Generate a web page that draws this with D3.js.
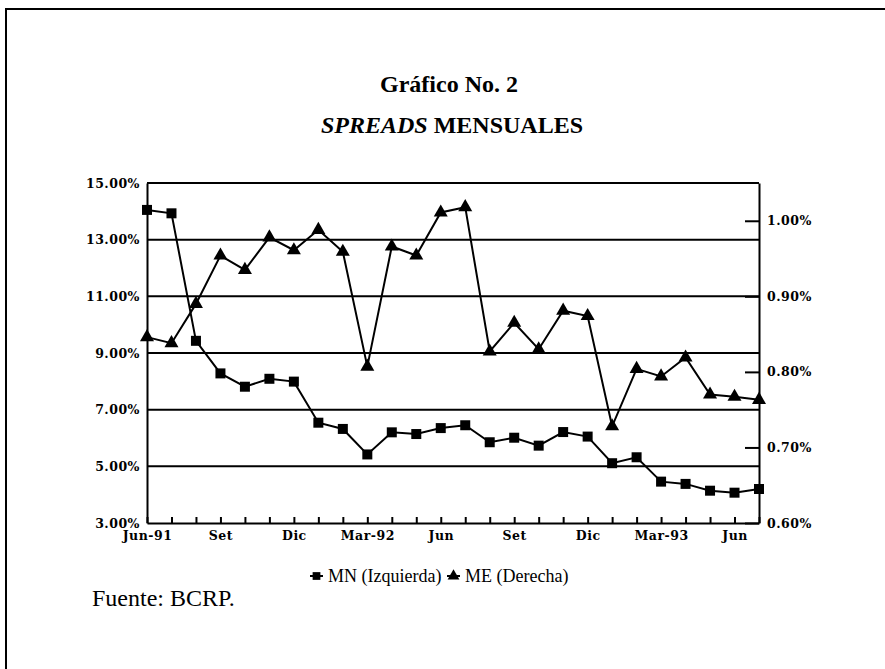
<!DOCTYPE html>
<html>
<head>
<meta charset="utf-8">
<script src="https://cdn.jsdelivr.net/npm/d3@7"></script>
<style>
    body { margin: 0; background: #fff; }
    .axis text { font-family: "DejaVu Serif", serif; font-size: 12.5px; font-weight: bold; fill: #000; letter-spacing: 0.5px; }
    .axis path, .axis line { stroke: #000; stroke-width: 2; }
    .title { font-family: "Liberation Serif", "Times New Roman", serif; font-weight: bold; font-size: 24px; }
    .legend text { font-family: "Liberation Serif", serif; font-size: 18px; }
    .source { font-family: "Liberation Serif", serif; font-size: 24px; }
</style>
</head>
<body>
<div id="chart"></div>
<script>

// months from Jun-91 to Jul-93
let months = ["Jun-91","Jul-91","Ago-91","Set-91","Oct-91","Nov-91","Dic-91","Ene-92","Feb-92","Mar-92",
    "Abr-92","May-92","Jun-92","Jul-92","Ago-92","Set-92","Oct-92","Nov-92","Dic-92","Ene-93","Feb-93",
    "Mar-93","Abr-93","May-93","Jun-93","Jul-93"];

// only these months get a label on the x axis
let tickText = {"Jun-91": "Jun-91", "Set-91": "Set", "Dic-91": "Dic", "Mar-92": "Mar-92", "Jun-92": "Jun",
    "Set-92": "Set", "Dic-92": "Dic", "Mar-93": "Mar-93", "Jun-93": "Jun"};

// MN spread, left axis (%)
let mn = [14.05, 13.93, 9.43, 8.28, 7.81, 8.09, 7.99, 6.54, 6.32, 5.42, 6.20, 6.14, 6.35,
    6.45, 5.85, 6.01, 5.73, 6.21, 6.05, 5.11, 5.32, 4.46, 4.38, 4.14, 4.07, 4.20];

// ME spread, right axis (%)
let me = [0.846, 0.838, 0.890, 0.954, 0.935, 0.978, 0.961, 0.988, 0.959, 0.807, 0.966, 0.954, 1.011,
    1.018, 0.827, 0.865, 0.830, 0.881, 0.874, 0.728, 0.804, 0.794, 0.819, 0.770, 0.767, 0.763];

let leftTicks = [3, 5, 7, 9, 11, 13, 15];
let rightTicks = [0.6, 0.7, 0.8, 0.9, 1.0];

let margin = {top: 183, right: 126, bottom: 146, left: 147};
let width = 885 - margin.left - margin.right;
let height = 669 - margin.top - margin.bottom;

let root = d3.select("#chart").append("svg")
    .attr("width", 885)
    .attr("height", 669);

// page frame (only top and left edges fall inside the picture)
root.append("rect")
    .attr("x", 6).attr("y", 9)
    .attr("width", 1000).attr("height", 1000)
    .attr("fill", "none")
    .attr("stroke", "#000")
    .attr("stroke-width", 2);

root.append("text").attr("class", "title")
    .attr("x", 449).attr("y", 92)
    .attr("text-anchor", "middle")
    .text("Gráfico No. 2");

let t2 = root.append("text").attr("class", "title")
    .attr("x", 452).attr("y", 133)
    .attr("text-anchor", "middle");
t2.append("tspan").attr("font-style", "italic").text("SPREADS");
t2.append("tspan").text(" MENSUALES");

let svg = root.append("g")
    .attr("transform", `translate(${margin.left}, ${margin.top})`);

// Scales
let x = d3.scalePoint().domain(months).range([0, width]);
let yL = d3.scaleLinear().domain([3, 15]).range([height, 0]);
let yR = d3.scaleLinear().domain([0.6, 1.05]).range([height, 0]);

// grid lines
svg.selectAll(".grid")
    .data(leftTicks.filter(d => d > 3))
    .enter().append("line")
    .attr("x1", 0).attr("x2", width)
    .attr("y1", d => yL(d)).attr("y2", d => yL(d))
    .attr("stroke", "#000")
    .attr("stroke-width", 2);

// Axes
svg.append("g").attr("class", "axis")
    .call(d3.axisLeft(yL).tickValues(leftTicks).tickSize(0).tickPadding(7)
        .tickFormat(d => d.toFixed(2) + "%"));

svg.append("g").attr("class", "axis")
    .attr("transform", `translate(${width}, 0)`)
    .call(d3.axisRight(yR).tickValues(rightTicks).tickSizeInner(-14).tickSizeOuter(0).tickPadding(8)
        .tickFormat(d => d.toFixed(2) + "%"));

svg.append("g").attr("class", "axis")
    .attr("transform", `translate(0, ${height})`)
    .call(d3.axisBottom(x).tickSizeInner(-6).tickSizeOuter(0).tickPadding(8)
        .tickFormat(d => tickText[d] || ""));

// Lines
let lineMN = d3.line().x((d, i) => x(months[i])).y(d => yL(d));
let lineME = d3.line().x((d, i) => x(months[i])).y(d => yR(d));

svg.append("path")
    .attr("d", lineME(me))
    .attr("fill", "none").attr("stroke", "#000").attr("stroke-width", 2);

svg.append("path")
    .attr("d", lineMN(mn))
    .attr("fill", "none").attr("stroke", "#000").attr("stroke-width", 2);

let square = d3.symbol().type(d3.symbolSquare).size(100);
let triangle = d3.symbol().type(d3.symbolTriangle).size(85);

svg.selectAll(".mn")
    .data(mn).enter().append("path")
    .attr("d", square)
    .attr("transform", (d, i) => `translate(${x(months[i])}, ${yL(d)})`);

svg.selectAll(".me")
    .data(me).enter().append("path")
    .attr("d", triangle)
    .attr("transform", (d, i) => `translate(${x(months[i])}, ${yR(d)})`);

// Legend
let legend = root.append("g").attr("class", "legend").attr("transform", "translate(310, 576)");
let legendItems = [{name: "MN (Izquierda)", sym: square, x: 0}, {name: "ME (Derecha)", sym: triangle, x: 137}];

legendItems.forEach(item => {
    let g = legend.append("g").attr("transform", `translate(${item.x}, 0)`);
    g.append("line").attr("x1", 0).attr("x2", 13).attr("stroke", "#000").attr("stroke-width", 2);
    g.append("path").attr("d", item.sym.size(60)()).attr("transform", "translate(6.5, 0)");
    g.append("text").attr("x", 18).attr("y", 6).text(item.name);
});

root.append("text").attr("class", "source")
    .attr("x", 92).attr("y", 606)
    .text("Fuente: BCRP.");

</script>
</body>
</html>
